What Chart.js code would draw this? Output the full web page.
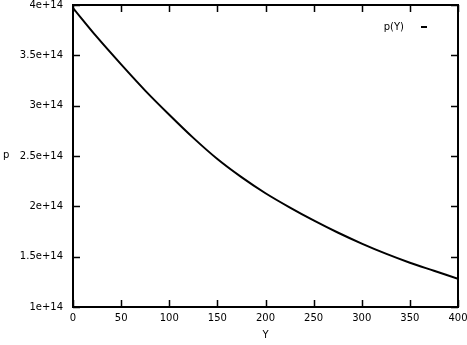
<!DOCTYPE html>
<html>
<head>
<meta charset="utf-8">
<script src="https://cdn.jsdelivr.net/npm/chart.js@4.4.1/dist/chart.umd.min.js"></script>
<style>
  html, body { margin: 0; padding: 0; background: #fff; }
  #wrap { width: 467px; height: 345px; }
</style>
</head>
<body>
<div id="wrap"><canvas id="chart"></canvas></div>
<script>
// values
var yValues = [0, 25, 50, 75, 100, 125, 150, 175, 200, 225, 250, 275, 300, 325, 350, 375, 400];
var pValues = [3.97e14, 3.68e14, 3.41e14, 3.15e14, 2.91e14, 2.68e14, 2.47e14, 2.29e14, 2.13e14,
               1.99e14, 1.86e14, 1.74e14, 1.63e14, 1.53e14, 1.44e14, 1.36e14, 1.28e14];
var xTicks = [0, 50, 100, 150, 200, 250, 300, 350, 400];
var yTicks = ['1e+14', '1.5e+14', '2e+14', '2.5e+14', '3e+14', '3.5e+14', '4e+14'];

var FONT = { family: 'DejaVu Sans', size: 10 };

// gnuplot-ish frame: border, inward ticks on all four sides, axis labels, key
var framePlugin = {
  id: 'frame',
  afterDraw: function(chart) {
    var c = chart.ctx, a = chart.chartArea;
    var xs = chart.scales.x, ys = chart.scales.y;
    var len = 7;
    c.save();
    c.strokeStyle = '#000';
    c.lineWidth = 2;
    c.strokeRect(a.left, a.top, a.right - a.left, a.bottom - a.top);
    c.lineWidth = 1.5;
    c.beginPath();
    xs.ticks.forEach(function(t) {
      var px = Math.round(xs.getPixelForValue(t.value)) + 0.5;
      c.moveTo(px, a.bottom); c.lineTo(px, a.bottom - len);
      c.moveTo(px, a.top); c.lineTo(px, a.top + len);
    });
    ys.ticks.forEach(function(t) {
      var py = Math.round(ys.getPixelForValue(t.value)) + 0.5;
      c.moveTo(a.left, py); c.lineTo(a.left + len, py);
      c.moveTo(a.right, py); c.lineTo(a.right - len, py);
    });
    c.stroke();

    c.fillStyle = '#000';
    c.font = FONT.size + 'px ' + FONT.family;
    c.textBaseline = 'middle';
    c.textAlign = 'left';
    c.fillText('p', 3, 155);
    c.textAlign = 'center';
    c.fillText('Y', (a.left + a.right) / 2, 335);

    // key
    c.textAlign = 'right';
    c.fillText(chart.data.datasets[0].label, 404, 27);
    c.lineWidth = 2;
    c.beginPath();
    c.moveTo(421, 27); c.lineTo(427, 27);
    c.stroke();
    c.restore();
  }
};

new Chart(document.getElementById('chart'), {
  type: 'line',
  data: {
    datasets: [{
      label: 'p(Y)',
      data: yValues.map(function(x, i) { return { x: x, y: pValues[i] }; }),
      borderColor: '#000',
      borderWidth: 2,
      pointRadius: 0,
      fill: false,
      cubicInterpolationMode: 'monotone'
    }]
  },
  options: {
    responsive: true,
    maintainAspectRatio: false,
    animation: false,
    layout: { padding: { top: 5, right: 9, left: 0, bottom: 0 } },
    plugins: { legend: { display: false }, tooltip: { enabled: false } },
    scales: {
      x: {
        type: 'linear',
        min: 0, max: 400,
        afterBuildTicks: function(s) { s.ticks = xTicks.map(function(v) { return { value: v }; }); },
        afterFit: function(s) { s.height = 38; s.paddingLeft = 0; s.paddingRight = 0; },
        grid: { display: false, drawTicks: false },
        border: { display: false },
        ticks: { color: '#000', font: FONT, padding: 5, maxRotation: 0 }
      },
      y: {
        type: 'linear',
        min: 1e14, max: 4e14,
        afterBuildTicks: function(s) {
          s.ticks = yTicks.map(function(l) { return { value: parseFloat(l) }; });
        },
        afterFit: function(s) { s.width = 73; s.paddingTop = 0; s.paddingBottom = 0; },
        grid: { display: false, drawTicks: false },
        border: { display: false },
        ticks: {
          color: '#000', font: FONT, padding: 10,
          callback: function(v) {
            var i = yTicks.map(parseFloat).indexOf(v);
            return i >= 0 ? yTicks[i] : '';
          }
        }
      }
    }
  },
  plugins: [framePlugin]
});
</script>
</body>
</html>
